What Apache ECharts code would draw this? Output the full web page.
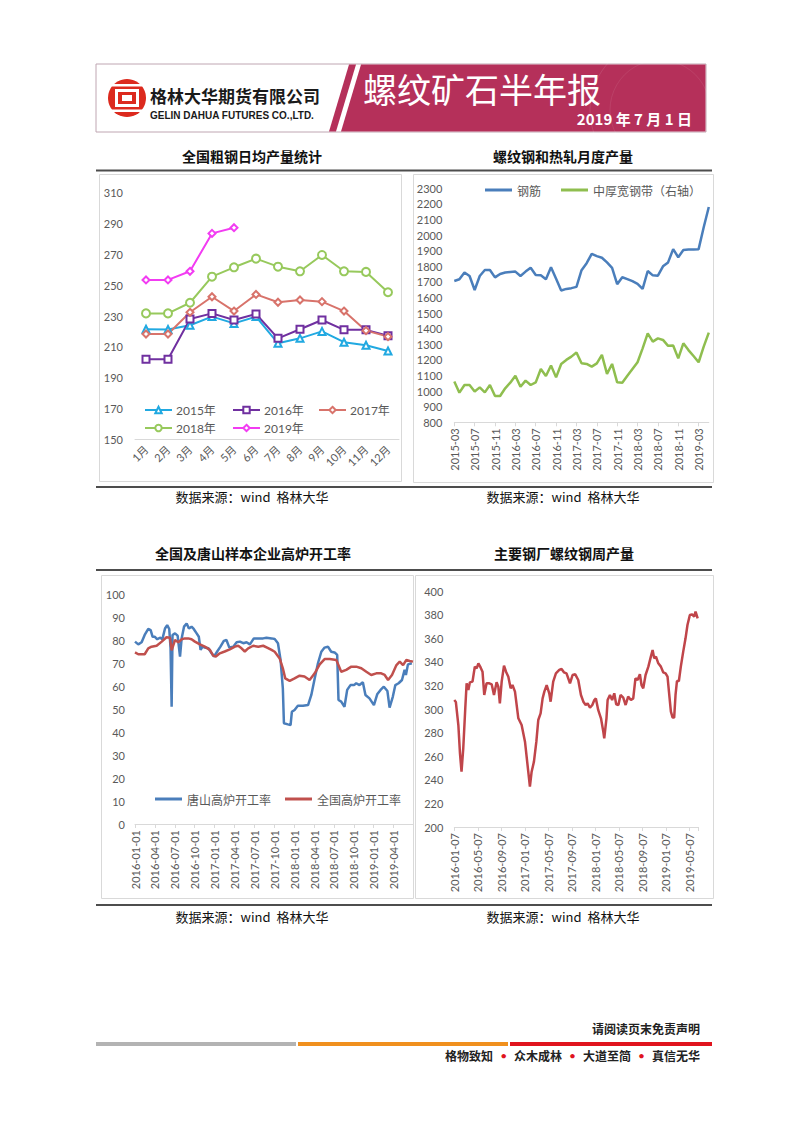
<!DOCTYPE html>
<html><head><meta charset="utf-8">
<script src="https://cdn.jsdelivr.net/npm/echarts@6/dist/echarts.min.js"></script>
<style>html,body{margin:0;padding:0;background:#fff}#c{width:802px;height:1133px}</style>
</head><body><div id="c"></div>
<script>
// ---------- Chart 1: 全国粗钢日均产量统计 ----------
const months1 = ['1月','2月','3月','4月','5月','6月','7月','8月','9月','10月','11月','12月'];
const y2015 = [221.4,221.2,224,229.6,225.2,229.6,212.3,215.5,220,213,211,207.3];
const y2016 = [201.9,201.9,228,231.7,227.4,231.3,215.5,221.4,227.4,221,221,217.2];
const y2017 = [218.3,218.3,232.4,242.5,233.2,244,238.9,240.4,239.3,233.2,220.5,216.6];
const y2018 = [231.7,231.7,238.6,255.5,261.6,267.2,262,259,269.6,259,258.6,245.4];
const y2019 = [253.4,253.4,259,283.6,287.3];

// ---------- Chart 2: 螺纹钢和热轧月度产量 ----------
const months2 = ['2015-03','2015-04','2015-05','2015-06','2015-07','2015-08','2015-09','2015-10','2015-11','2015-12',
'2016-01','2016-02','2016-03','2016-04','2016-05','2016-06','2016-07','2016-08','2016-09','2016-10','2016-11','2016-12',
'2017-01','2017-02','2017-03','2017-04','2017-05','2017-06','2017-07','2017-08','2017-09','2017-10','2017-11','2017-12',
'2018-01','2018-02','2018-03','2018-04','2018-05','2018-06','2018-07','2018-08','2018-09','2018-10','2018-11','2018-12',
'2019-01','2019-02','2019-03','2019-04','2019-05'];
const rebarMonthly = [1706,1717,1760,1738,1648,1738,1776,1776,1729,1751,1760,1764,1766,1738,1766,1791,1744,1742,1717,1794,1720,1645,1655,1660,1668,1775,1820,1880,1865,1855,1825,1790,1685,1730,1718,1705,1688,1655,1770,1742,1740,1800,1825,1910,1858,1905,1908,1908,1910,2050,2180];
const plateMonthly = [1061,990,1039,1039,997,1024,992,1039,969,969,1018,1054,1099,1028,1067,1039,1056,1142,1097,1164,1088,1174,1200,1221,1247,1178,1174,1157,1178,1232,1110,1174,1056,1054,1099,1142,1185,1274,1370,1317,1338,1328,1290,1292,1210,1306,1263,1225,1185,1285,1375];

// ---------- Chart 3: 全国及唐山样本企业高炉开工率 ----------
const tsDates = ['2016-01-01','2016-01-16','2016-02-01','2016-02-15','2016-03-01','2016-03-12','2016-03-21','2016-04-01','2016-04-12','2016-04-24','2016-05-05','2016-05-17','2016-05-27','2016-06-06','2016-06-12','2016-06-17','2016-06-21','2016-07-02','2016-07-14','2016-07-25','2016-08-02','2016-08-13','2016-08-25','2016-09-05','2016-09-17','2016-09-27','2016-10-10','2016-10-20','2016-10-28','2016-11-07','2016-11-17','2016-12-03','2016-12-18','2016-12-29','2017-01-13','2017-01-28','2017-02-13','2017-02-25','2017-03-08','2017-03-26','2017-04-11','2017-04-26','2017-05-11','2017-05-26','2017-06-11','2017-06-29','2017-07-19','2017-08-11','2017-08-26','2017-09-19','2017-10-03','2017-10-18','2017-10-30','2017-11-10','2017-11-15','2017-12-03','2017-12-15','2017-12-21','2018-01-03','2018-01-18','2018-02-11','2018-03-04','2018-03-19','2018-04-04','2018-04-19','2018-05-04','2018-05-19','2018-06-04','2018-06-19','2018-07-04','2018-07-16','2018-07-22','2018-08-04','2018-08-19','2018-09-01','2018-09-16','2018-10-02','2018-10-12','2018-10-27','2018-11-12','2018-11-24','2018-12-12','2019-01-02','2019-01-17','2019-02-02','2019-02-17','2019-03-03','2019-03-13','2019-03-28','2019-04-09','2019-04-24','2019-05-09','2019-05-21','2019-05-27','2019-06-06','2019-06-24'];
const tsVals = [79.3,78.1,79,82.2,84.8,84.3,81.4,81.4,80.3,81,80.4,85,86.5,84.8,76.4,51,82.2,82.9,81.9,72.8,80.7,85.8,87.2,85,85.8,84.8,82.9,81.4,75.7,77.1,76.7,76.4,74.2,72.8,75,77.1,79.6,80,76.7,77.1,79,79.3,78.6,79,78.1,80.7,80.7,80.7,81,80.7,80.4,78.6,71.3,59,43.8,43.3,43,48.8,49.6,51.4,51.4,51.7,56.1,63.3,69.9,74.9,76.7,77.1,74.9,74.6,73.5,53.9,53.2,51,58.3,60.4,60.4,61.2,60.4,61.6,56.1,54.6,51.7,56.4,58.3,59.7,57.8,50.6,55.4,60.4,61.2,62.6,67,64.8,69.4,69.9];
const natDates = ['2016-01-01','2016-01-16','2016-02-15','2016-03-01','2016-03-16','2016-04-09','2016-05-02','2016-05-24','2016-06-09','2016-06-17','2016-07-02','2016-07-17','2016-08-02','2016-08-17','2016-09-02','2016-09-17','2016-10-02','2016-10-25','2016-11-17','2016-12-10','2016-12-25','2017-01-07','2017-01-25','2017-02-17','2017-03-10','2017-04-03','2017-04-18','2017-05-03','2017-05-18','2017-06-03','2017-06-26','2017-07-19','2017-08-11','2017-08-29','2017-09-19','2017-10-03','2017-10-26','2017-11-10','2017-11-21','2017-12-11','2018-01-03','2018-01-26','2018-02-18','2018-03-11','2018-04-04','2018-04-27','2018-05-19','2018-06-12','2018-07-12','2018-08-04','2018-08-27','2018-09-20','2018-10-12','2018-11-05','2018-11-28','2018-12-20','2019-01-13','2019-02-05','2019-02-21','2019-03-06','2019-03-24','2019-04-14','2019-04-29','2019-05-14','2019-05-29','2019-06-14','2019-06-29'];
const natVals = [74.6,73.8,73.8,76.4,77.1,77.5,79.3,81.2,81,75.5,80,79,80.3,80.7,80.7,80.3,79.3,78.1,77.1,75.7,73.2,72.8,74.2,75,75.9,77.1,77.5,76.4,75,76.4,77.5,77.1,77.5,76.7,75.7,74.9,72,67.7,63.3,62.2,63.3,64.5,64.1,62.6,65.5,69.4,71.7,71.7,71.3,66.2,67,68.4,68.4,67.7,66.2,64.8,65.5,65.5,64.8,62.6,64.8,69.1,70.6,69.1,71.3,70.9,70.6];

// ---------- Chart 4: 主要钢厂螺纹钢周产量 ----------
const rbDates = ['2016-01-07','2016-01-15','2016-01-28','2016-02-06','2016-02-14','2016-02-23','2016-03-03','2016-03-10','2016-03-19','2016-03-27','2016-04-10','2016-04-22','2016-05-01','2016-05-10','2016-05-22','2016-06-01','2016-06-10','2016-06-22','2016-07-06','2016-07-18','2016-07-30','2016-08-13','2016-08-22','2016-08-30','2016-09-09','2016-09-21','2016-10-01','2016-10-13','2016-10-25','2016-11-04','2016-11-17','2016-12-04','2016-12-21','2017-01-08','2017-01-25','2017-02-03','2017-02-12','2017-02-24','2017-03-06','2017-03-16','2017-03-28','2017-04-08','2017-04-17','2017-04-29','2017-05-12','2017-05-19','2017-06-02','2017-06-16','2017-07-03','2017-07-15','2017-07-27','2017-08-10','2017-08-28','2017-09-11','2017-09-25','2017-10-10','2017-10-24','2017-11-06','2017-11-18','2017-11-28','2017-12-10','2017-12-22','2018-01-02','2018-01-10','2018-01-22','2018-02-06','2018-02-18','2018-02-23','2018-03-04','2018-03-10','2018-03-22','2018-04-03','2018-04-14','2018-04-24','2018-05-05','2018-05-16','2018-05-30','2018-06-12','2018-06-25','2018-07-09','2018-07-21','2018-08-02','2018-08-13','2018-08-25','2018-09-03','2018-09-12','2018-09-24','2018-10-08','2018-10-21','2018-10-30','2018-11-08','2018-11-17','2018-11-29','2018-12-12','2018-12-24','2019-01-06','2019-01-16','2019-01-25','2019-02-03','2019-02-12','2019-02-20','2019-02-27','2019-03-04','2019-03-14','2019-03-24','2019-04-06','2019-04-18','2019-04-28','2019-05-10','2019-05-22','2019-06-02','2019-06-09','2019-06-20'];
const rbVals = [307.6,306,286.4,262.4,246.9,266.7,300.6,321.8,316.1,322.6,323.2,335.9,334.5,338.7,335,331.6,311.9,321.8,321.8,320.9,311.9,322.6,318.9,304.8,323.2,336.7,331.6,327.4,317.5,320.3,314.7,292.1,286.4,272.3,246.9,234.2,246.9,255.4,272.3,290.7,296.3,309,314.7,320.3,313.3,306.2,323.2,330.2,333.1,333.9,331.1,330.2,321.8,328.8,329.4,324.6,311.9,306.2,303.4,304.8,301.1,303.4,307.6,309,299.2,292.1,280.8,275.1,292.1,307.6,311.9,307.6,313.3,304,303.4,311.9,309.6,303.4,310.5,307.6,309,326,324.6,329.4,320.3,317.5,328.8,335.9,344.4,350,342.9,344.4,338.7,335.9,331.1,330.2,327.4,311.9,297.7,292.7,292.7,311.9,323.7,323.7,335.9,348.6,359.9,371.2,379.7,380.2,378.2,382.5,376.8];

// months since a reference day (for date-based x axes)
function monthsFrom(d, refDay){const p=d.split('-').map(Number);return (p[0]-2016)*12+(p[1]-1)+(p[2]-refDay)/30.44;}
function pad(n){return (n<10?'0':'')+n;}
function dateLabel(v, day){const y=2016+Math.floor(v/12);const mo=(v%12)+1;return y+'-'+pad(mo)+'-'+pad(day);}

const LBL = {color:'#595959', fontSize:11, fontFamily:'Lato, "Noto Sans CJK SC", sans-serif'};
const AXLINE = {lineStyle:{color:'#d9d9d9', width:1}};
const CJK = '"Noto Sans CJK SC", sans-serif';

function line1(name, data, color, symbol){
  return {type:'line', name, data, xAxisIndex:0, yAxisIndex:0, color, symbol, symbolSize: symbol==='emptyCircle'?8:7,
    lineStyle:{color, width:2}, itemStyle:{color, borderColor:color, borderWidth:1.8}, z:3};
}
function leg1(name, left, top){
  return {data:[name], left, top, padding:0, itemWidth:27, itemHeight:8, textStyle:{color:'#595959', fontSize:12, padding:[0,0,0,-1]}};
}

const chart = echarts.init(document.getElementById('c'), null, {renderer:'svg', width:802, height:1133});

const txt = (x,y,text,o)=>({type:'text', x, y, style:Object.assign({text, fill:'#111', font:'13px '+CJK, textVerticalAlign:'middle'}, o||{})});
const rect = (x,y,w,h,style)=>({type:'rect', shape:{x,y,width:w,height:h}, style});

const graphic = [
  // banner
  rect(96,64,610,68,{fill:'#fff', stroke:'#bfa6b2', lineWidth:1}),
  {type:'polygon', shape:{points:[[361,64.5],[705.5,64.5],[705.5,131.5],[341,131.5]]}, style:{fill:'#b5305a'}},
  {type:'polygon', shape:{points:[[349,64.5],[356,64.5],[336,131.5],[329,131.5]]}, style:{fill:'#b5305a'}},
  {type:'circle', shape:{cx:660, cy:110, r:70}, style:{fill:'none', stroke:'rgba(255,255,255,0.10)', lineWidth:1}},
  {type:'circle', shape:{cx:660, cy:110, r:50}, style:{fill:'none', stroke:'rgba(255,255,255,0.08)', lineWidth:1}},
  // logo
  {type:'circle', shape:{cx:127, cy:98, r:19}, style:{fill:'#dc2a1e'}},
  rect(110,84,34,2.5,{fill:'#fff'}),
  rect(110,109.5,34,2.5,{fill:'#fff'}),
  rect(115,89,24,18,{fill:'#fff'}),
  rect(118,92,18,12,{fill:'#dc2a1e'}),
  rect(122,95,10,6,{fill:'#fff'}),
  txt(150,95,'格林大华期货有限公司',{font:'bold 17px '+CJK, fill:'#1a1a1a'}),
  txt(150,115,'GELIN DAHUA FUTURES CO.,LTD.',{font:'bold 10px "Liberation Sans", Arial, sans-serif', fill:'#1a1a1a'}),
  txt(363,88,'螺纹矿石半年报',{font:'34px '+CJK, fill:'#fff'}),
  txt(692,118,'2019 年 7 月 1 日',{font:'bold 15px '+CJK, fill:'#fff', textAlign:'right'}),
  // section titles
  txt(252,156,'全国粗钢日均产量统计',{font:'bold 14px '+CJK, textAlign:'center'}),
  txt(563,156,'螺纹钢和热轧月度产量',{font:'bold 14px '+CJK, textAlign:'center'}),
  txt(253,553,'全国及唐山样本企业高炉开工率',{font:'bold 14px '+CJK, textAlign:'center'}),
  txt(564,553,'主要钢厂螺纹钢周产量',{font:'bold 14px '+CJK, textAlign:'center'}),
  // separators
  rect(96,169.5,616,2,{fill:'#4d4d4d'}),
  rect(96,486,616,2,{fill:'#4d4d4d'}),
  rect(96,569,616,2,{fill:'#4d4d4d'}),
  rect(96,904,616,2,{fill:'#4d4d4d'}),
  // chart frames
  rect(99.5,174.5,302,307,{fill:'none', stroke:'#d9d9d9', lineWidth:1}),
  rect(413.5,174.5,300,308,{fill:'none', stroke:'#d9d9d9', lineWidth:1}),
  rect(101.5,575.5,312,323,{fill:'none', stroke:'#d9d9d9', lineWidth:1}),
  rect(415.5,575.5,298,323,{fill:'none', stroke:'#d9d9d9', lineWidth:1}),
  // sources
  txt(252,496,'数据来源：wind  格林大华',{font:'13px '+CJK, textAlign:'center'}),
  txt(563,496,'数据来源：wind  格林大华',{font:'13px '+CJK, textAlign:'center'}),
  txt(252,916,'数据来源：wind  格林大华',{font:'13px '+CJK, textAlign:'center'}),
  txt(563,916,'数据来源：wind  格林大华',{font:'13px '+CJK, textAlign:'center'}),
  // footer
  txt(700,1028,'请阅读页末免责声明',{font:'bold 12px '+CJK, textAlign:'right', fill:'#222'}),
  rect(96,1042,200,4,{fill:'#b3b3b3'}),
  rect(298,1042,210,4,{fill:'#f0901e'}),
  rect(510,1042,202,4,{fill:'#e0141e'}),
  {type:'text', x:700, y:1055, style:{text:'{a|格物致知}{d|•}{a|众木成林}{d|•}{a|大道至简}{d|•}{a|真信无华}', textAlign:'right', textVerticalAlign:'middle', fill:'#222', font:'bold 12px '+CJK,
    rich:{a:{fontSize:12, fontWeight:'bold', fontFamily:CJK, fill:'#222'}, d:{fontSize:12, fill:'#e0141e', fontFamily:'Lato', padding:[0,7]}}}}
];

const option = {
  animation:false,
  backgroundColor:'#fff',
  textStyle:{fontFamily:'Lato, "Noto Sans CJK SC", sans-serif'},
  graphic,
  legend:[
    leg1('2015年',144,404),
    leg1('2016年',232,404),
    leg1('2017年',318,404),
    leg1('2018年',144,422),
    leg1('2019年',232,422),
    {data:['钢筋','中厚宽钢带（右轴）'], left:485, top:184, padding:0, icon:'rect', itemWidth:27, itemHeight:3, itemGap:20, textStyle:{color:'#595959', fontSize:12, fontFamily:CJK}},
    {data:['唐山高炉开工率','全国高炉开工率'], left:155, top:793, padding:0, icon:'rect', itemWidth:27, itemHeight:3, itemGap:14, textStyle:{color:'#595959', fontSize:12, fontFamily:CJK}}
  ],
  grid:[
    {left:135, top:192.7, width:264, height:246.6},
    {left:454.3, top:188.3, width:254.5, height:234},
    {left:135, top:594, width:278.5, height:230},
    {left:454.3, top:591, width:243.8, height:236}
  ],
  xAxis:[
    {type:'category', gridIndex:0, data:months1, boundaryGap:true, axisLine:AXLINE, axisTick:{show:false},
      axisLabel:Object.assign({}, LBL, {rotate:45, interval:0, margin:8, fontSize:11})},
    {type:'category', gridIndex:1, data:months2, boundaryGap:false, axisLine:AXLINE,
      axisTick:{show:true, interval:3, length:4, lineStyle:{color:'#d9d9d9'}},
      axisLabel:Object.assign({}, LBL, {rotate:90, interval:3, margin:6})},
    {type:'value', gridIndex:2, min:0, max:42, interval:3, splitLine:{show:false}, axisLine:AXLINE,
      axisTick:{show:true, length:4, lineStyle:{color:'#d9d9d9'}},
      axisLabel:Object.assign({}, LBL, {rotate:90, margin:6, showMaxLabel:false, formatter:v=> (Math.abs(v%3)<1e-6 && v<42)? dateLabel(v,1):''})},
    {type:'value', gridIndex:3, min:0, max:41.5, interval:4, splitLine:{show:false}, axisLine:AXLINE,
      axisTick:{show:true, length:4, lineStyle:{color:'#d9d9d9'}},
      axisLabel:Object.assign({}, LBL, {rotate:90, margin:6, formatter:v=> Math.abs(v%4)<1e-6 ? dateLabel(v,7):''})}
  ],
  yAxis:[
    {type:'value', gridIndex:0, min:150, max:310, interval:10, splitLine:{show:false}, axisLine:{show:false}, axisTick:{show:false},
      axisLabel:Object.assign({}, LBL, {margin:12, formatter:v=> ((v-150)%20===0)? String(v):''})},
    {type:'value', gridIndex:1, min:800, max:2300, interval:100, splitLine:{show:false}, axisLine:{show:false}, axisTick:{show:false},
      axisLabel:Object.assign({}, LBL, {margin:12, formatter:v=>String(v)})},
    {type:'value', gridIndex:2, min:0, max:100, interval:10, splitLine:{show:false}, axisLine:{show:false}, axisTick:{show:false},
      axisLabel:Object.assign({}, LBL, {margin:10, formatter:v=>String(v)})},
    {type:'value', gridIndex:3, min:200, max:400, interval:20, splitLine:{show:false}, axisLine:{show:false}, axisTick:{show:false},
      axisLabel:Object.assign({}, LBL, {margin:11, formatter:v=>String(v)})}
  ],
  series:[
    line1('2015年', y2015, '#21a9e1', 'emptyTriangle'),
    line1('2016年', y2016, '#7030a0', 'emptyRect'),
    line1('2017年', y2017, '#d8736b', 'emptyDiamond'),
    line1('2018年', y2018, '#97c95c', 'emptyCircle'),
    line1('2019年', y2019, '#f23cf2', 'emptyDiamond'),
    {type:'line', name:'钢筋', xAxisIndex:1, yAxisIndex:1, data:rebarMonthly, color:'#4a7ebb', symbol:'none', lineStyle:{width:2.5}},
    {type:'line', name:'中厚宽钢带（右轴）', xAxisIndex:1, yAxisIndex:1, data:plateMonthly, color:'#8fbe4f', symbol:'none', lineStyle:{width:2.5}},
    {type:'line', name:'唐山高炉开工率', xAxisIndex:2, yAxisIndex:2, data:tsDates.map((d,i)=>[monthsFrom(d,1), tsVals[i]]), color:'#4a7ebb', symbol:'none', lineStyle:{width:2.5}},
    {type:'line', name:'全国高炉开工率', xAxisIndex:2, yAxisIndex:2, data:natDates.map((d,i)=>[monthsFrom(d,1), natVals[i]]), color:'#c0504d', symbol:'none', lineStyle:{width:2.5}},
    {type:'line', name:'螺纹钢周产量', xAxisIndex:3, yAxisIndex:3, data:rbDates.map((d,i)=>[monthsFrom(d,7), rbVals[i]]), color:'#c0454a', symbol:'none', lineStyle:{width:2.5}}
  ]
};
chart.setOption(option);
</script></body></html>
